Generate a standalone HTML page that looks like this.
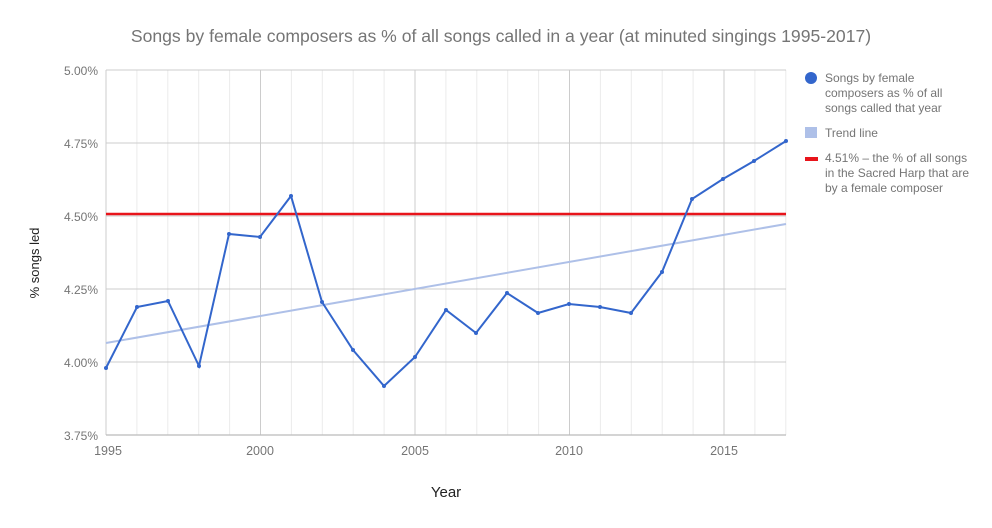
<!DOCTYPE html>
<html><head><style>body{margin:0;background:#fff}svg{display:block}text{font-family:"Liberation Sans",sans-serif}</style></head><body>
<svg width="992" height="528" xmlns="http://www.w3.org/2000/svg">
<rect width="992" height="528" fill="#fff"/>
<text x="501" y="42" text-anchor="middle" font-size="17.6" fill="#757575">Songs by female composers as % of all songs called in a year (at minuted singings 1995-2017)</text>
<g stroke="#ebebeb" stroke-width="1">
<line x1="136.9" y1="70" x2="136.9" y2="435"/><line x1="167.8" y1="70" x2="167.8" y2="435"/><line x1="198.7" y1="70" x2="198.7" y2="435"/><line x1="229.6" y1="70" x2="229.6" y2="435"/>
<line x1="291.4" y1="70" x2="291.4" y2="435"/><line x1="322.3" y1="70" x2="322.3" y2="435"/><line x1="353.2" y1="70" x2="353.2" y2="435"/><line x1="384.1" y1="70" x2="384.1" y2="435"/>
<line x1="445.9" y1="70" x2="445.9" y2="435"/><line x1="476.8" y1="70" x2="476.8" y2="435"/><line x1="507.7" y1="70" x2="507.7" y2="435"/><line x1="538.6" y1="70" x2="538.6" y2="435"/>
<line x1="600.4" y1="70" x2="600.4" y2="435"/><line x1="631.3" y1="70" x2="631.3" y2="435"/><line x1="662.2" y1="70" x2="662.2" y2="435"/><line x1="693.1" y1="70" x2="693.1" y2="435"/>
<line x1="754.9" y1="70" x2="754.9" y2="435"/><line x1="785.8" y1="70" x2="785.8" y2="435"/>
</g>
<g stroke="#cccccc" stroke-width="1">
<line x1="106" y1="70" x2="786" y2="70"/><line x1="106" y1="143" x2="786" y2="143"/><line x1="106" y1="216" x2="786" y2="216"/><line x1="106" y1="289" x2="786" y2="289"/><line x1="106" y1="362" x2="786" y2="362"/>
<line x1="106" y1="70" x2="106" y2="435"/><line x1="260.5" y1="70" x2="260.5" y2="435"/><line x1="415" y1="70" x2="415" y2="435"/><line x1="569.5" y1="70" x2="569.5" y2="435"/><line x1="724" y1="70" x2="724" y2="435"/>
</g>
<line x1="106" y1="435" x2="786" y2="435" stroke="#bbb" stroke-width="1.2"/>
<g font-size="12" fill="#757575" text-anchor="end">
<text x="98" y="75">5.00%</text><text x="98" y="148">4.75%</text><text x="98" y="221">4.50%</text><text x="98" y="294">4.25%</text><text x="98" y="367">4.00%</text><text x="98" y="440">3.75%</text>
</g>
<g font-size="12.5" fill="#757575" text-anchor="middle">
<text x="108" y="455">1995</text><text x="260" y="455">2000</text><text x="415" y="455">2005</text><text x="569" y="455">2010</text><text x="724" y="455">2015</text>
</g>
<text x="446" y="497" text-anchor="middle" font-size="15" fill="#222">Year</text>
<text transform="translate(39,263) rotate(-90)" text-anchor="middle" font-size="13" fill="#222">% songs led</text>
<line x1="106" y1="343" x2="786" y2="224" stroke="#aec0e8" stroke-width="2"/>
<line x1="106" y1="214" x2="786" y2="214" stroke="#e8141b" stroke-width="2.5"/>
<polyline fill="none" stroke="#3366cc" stroke-width="2" points="106,368 137,307 168,301 199,366 229,234 260,237 291,196 322,302 353,350 384,386 415,357 446,310 476,333 507,293 538,313 569,304 600,307 631,313 662,272 692,199 723,179 754,161 786,141"/>
<g fill="#3366cc">
<circle cx="106" cy="368" r="2"/><circle cx="137" cy="307" r="2"/><circle cx="168" cy="301" r="2"/><circle cx="199" cy="366" r="2"/><circle cx="229" cy="234" r="2"/><circle cx="260" cy="237" r="2"/><circle cx="291" cy="196" r="2"/><circle cx="322" cy="302" r="2"/><circle cx="353" cy="350" r="2"/><circle cx="384" cy="386" r="2"/><circle cx="415" cy="357" r="2"/><circle cx="446" cy="310" r="2"/><circle cx="476" cy="333" r="2"/><circle cx="507" cy="293" r="2"/><circle cx="538" cy="313" r="2"/><circle cx="569" cy="304" r="2"/><circle cx="600" cy="307" r="2"/><circle cx="631" cy="313" r="2"/><circle cx="662" cy="272" r="2"/><circle cx="692" cy="199" r="2"/><circle cx="723" cy="179" r="2"/><circle cx="754" cy="161" r="2"/><circle cx="786" cy="141" r="2"/>
</g>
<circle cx="811" cy="78" r="6" fill="#3366cc"/>
<g font-size="12" fill="#757575">
<text x="825" y="82">Songs by female</text><text x="825" y="97">composers as % of all</text><text x="825" y="112">songs called that year</text>
<text x="825" y="137">Trend line</text>
<text x="825" y="162">4.51% – the % of all songs</text><text x="825" y="177">in the Sacred Harp that are</text><text x="825" y="192">by a female composer</text>
</g>
<rect x="805" y="127" width="12" height="11" fill="#aec0e8"/>
<rect x="805" y="157" width="13" height="4" fill="#e8141b"/>
</svg>
</body></html>
